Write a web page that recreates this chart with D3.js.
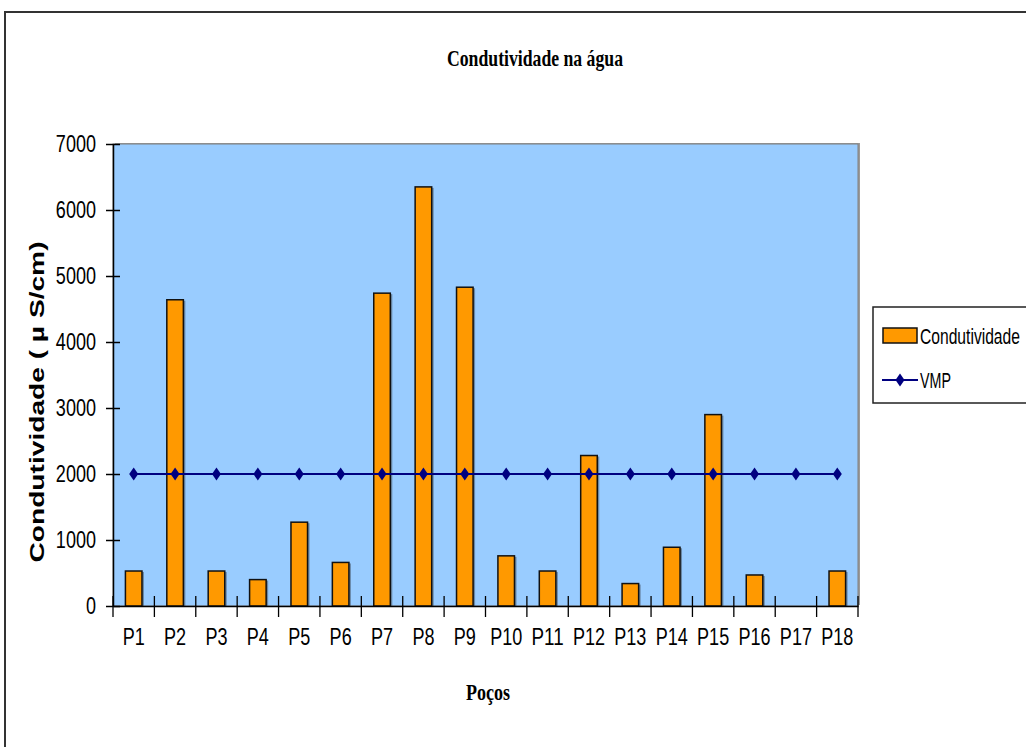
<!DOCTYPE html>
<html>
<head>
<meta charset="utf-8">
<script src="https://cdn.jsdelivr.net/npm/d3@7"></script>
<style>
  html, body { margin: 0; padding: 0; background: #fff; }
  svg { display: block; }
</style>
</head>
<body>
<svg id="chart" width="1026" height="747"></svg>
<script>
const categories = ["P1","P2","P3","P4","P5","P6","P7","P8","P9","P10","P11","P12","P13","P14","P15","P16","P17","P18"];
const condutividade = [530, 4640, 530, 400, 1270, 660, 4740, 6350, 4830, 760, 530, 2280, 340, 890, 2900, 470, 0, 530];
const vmp = [2000, 2000, 2000, 2000, 2000, 2000, 2000, 2000, 2000, 2000, 2000, 2000, 2000, 2000, 2000, 2000, 2000, 2000];
const yTicks = [0, 1000, 2000, 3000, 4000, 5000, 6000, 7000];
const titleText = "Condutividade na água";
const xTitle = "Poços";
const yTitle = "Condutividade ( µ S/cm)";
const legendNames = ["Condutividade", "VMP"];

const svg = d3.select("#chart");
const plot = { left: 113, right: 858, top: 144, bottom: 606 };
const sans = "'Liberation Sans', Arial, sans-serif";
const FS = 23.5;
// narrow-font width estimate (Arial Narrow metrics, at 22px)
const narrowW = s => {
  let w = 0;
  for (const ch of s) {
    if (/[0-9]/.test(ch)) w += 0.456;
    else if (ch === "P") w += 0.547;
    else w += 0.456;
  }
  return w * 22;
};

// outer chart frame
svg.append("rect").attr("x", 5).attr("y", 12).attr("width", 1100).attr("height", 800)
  .attr("fill", "#fff").attr("stroke", "#333").attr("stroke-width", 2);

const x = d3.scaleBand().domain(categories).range([plot.left, plot.right]).paddingInner(0).paddingOuter(0);
const y = d3.scaleLinear().domain([0, 7000]).range([plot.bottom, plot.top]);

// plot area with shadow
svg.append("rect").attr("x", plot.left + 2).attr("y", plot.top - 1)
  .attr("width", plot.right - plot.left).attr("height", plot.bottom - plot.top)
  .attr("fill", "#9a9a9a");
svg.append("rect").attr("x", plot.left).attr("y", plot.top)
  .attr("width", plot.right - plot.left).attr("height", plot.bottom - plot.top)
  .attr("fill", "#99CCFF").attr("stroke", "#808080").attr("stroke-width", 1);

// bars
const bw = x.bandwidth() * 0.4;
const bars = svg.append("g");
bars.selectAll("rect.shadow").data(condutividade).join("rect")
  .attr("class", "shadow")
  .attr("x", (d, i) => x(categories[i]) + x.bandwidth() / 2 - bw / 2 + 2)
  .attr("y", d => y(d) + 1)
  .attr("width", bw).attr("height", d => Math.max(0, y(0) - y(d)))
  .attr("fill", d => d > 0 ? "#4a5a6a" : "none").attr("opacity", 0.6);
bars.selectAll("rect.bar").data(condutividade).join("rect")
  .attr("class", "bar")
  .attr("x", (d, i) => x(categories[i]) + x.bandwidth() / 2 - bw / 2)
  .attr("y", d => y(d))
  .attr("width", bw).attr("height", d => Math.max(0, y(0) - y(d)))
  .attr("fill", d => d > 0 ? "#FF9900" : "none")
  .attr("stroke", d => d > 0 ? "#111" : "none").attr("stroke-width", 1.5);

// VMP line
const cx = (d, i) => x(categories[i]) + x.bandwidth() / 2;
const line = d3.line().x(cx).y(d => y(d));
svg.append("path").datum(vmp).attr("d", line)
  .attr("fill", "none").attr("stroke", "#000080").attr("stroke-width", 2);
const diamond = "M0,-6.5 L4.5,0 L0,6.5 L-4.5,0 Z";
svg.append("g").selectAll("path").data(vmp).join("path")
  .attr("d", diamond)
  .attr("transform", (d, i) => `translate(${cx(d, i)},${y(d)})`)
  .attr("fill", "#000080");

// Y axis
const yAxis = d3.axisLeft(y).tickValues(yTicks).tickSizeInner(7).tickSizeOuter(0).tickPadding(10).tickFormat(d3.format("d"));
const gy = svg.append("g").attr("transform", `translate(${plot.left},0)`).call(yAxis);
gy.select(".domain").attr("stroke", "#000").attr("stroke-width", 1.5);
gy.selectAll(".tick line").attr("x2", 7).attr("x1", -7).attr("stroke", "#000").attr("stroke-width", 1.5);
gy.selectAll(".tick text").attr("x", -17).attr("font-family", sans).attr("font-size", FS).attr("fill", "#000")
  .each(function() { const t = d3.select(this); t.attr("textLength", narrowW(t.text())).attr("lengthAdjust", "spacingAndGlyphs"); });

// X axis
const xAxis = d3.axisBottom(x).tickSize(0).tickPadding(22);
const gx = svg.append("g").attr("transform", `translate(0,${plot.bottom})`).call(xAxis);
gx.select(".domain").attr("stroke", "#000").attr("stroke-width", 1.5);
gx.selectAll(".tick text").attr("font-family", sans).attr("font-size", FS).attr("fill", "#000")
  .each(function() { const t = d3.select(this); t.attr("textLength", narrowW(t.text())).attr("lengthAdjust", "spacingAndGlyphs"); });
const bounds = categories.map(c => x(c)).concat([plot.right]);
svg.append("g").selectAll("line").data(bounds).join("line")
  .attr("x1", d => d).attr("x2", d => d)
  .attr("y1", plot.bottom - 10).attr("y2", plot.bottom + 11)
  .attr("stroke", "#000").attr("stroke-width", 1.3);

// titles
svg.append("text").attr("x", 535).attr("y", 66).attr("text-anchor", "middle")
  .attr("font-family", "'Liberation Serif', 'Times New Roman', serif").attr("font-weight", "bold")
  .attr("font-size", 24).attr("textLength", 176).attr("lengthAdjust", "spacingAndGlyphs")
  .text(titleText);
svg.append("text").attr("x", 488).attr("y", 700).attr("text-anchor", "middle")
  .attr("font-family", "'Liberation Serif', 'Times New Roman', serif").attr("font-weight", "bold")
  .attr("font-size", 24).attr("textLength", 44).attr("lengthAdjust", "spacingAndGlyphs")
  .text(xTitle);
svg.append("text").attr("transform", "translate(44,402) rotate(-90)").attr("text-anchor", "middle")
  .attr("font-family", sans).attr("font-weight", "bold")
  .attr("font-size", 20).attr("textLength", 321).attr("lengthAdjust", "spacingAndGlyphs")
  .text(yTitle);

// legend
const lg = svg.append("g");
lg.append("rect").attr("x", 873).attr("y", 307).attr("width", 170).attr("height", 96)
  .attr("fill", "#fff").attr("stroke", "#222").attr("stroke-width", 1.5);
lg.append("rect").attr("x", 883).attr("y", 328).attr("width", 34).attr("height", 15)
  .attr("fill", "#FF9900").attr("stroke", "#111").attr("stroke-width", 1.5);
lg.append("line").attr("x1", 882).attr("x2", 918).attr("y1", 380).attr("y2", 380)
  .attr("stroke", "#000080").attr("stroke-width", 2);
lg.append("path").attr("d", diamond).attr("transform", "translate(900,380)").attr("fill", "#000080");
const legendWidths = [100, 31];
lg.selectAll("text").data(legendNames).join("text")
  .attr("font-family", sans).attr("font-size", 22).attr("fill", "#000")
  .text(d => d)
  .each(function(d, i) {
    const natural = this.getComputedTextLength();
    const sx = legendWidths[i] / natural;
    d3.select(this).attr("transform", `translate(920,${i === 0 ? 344 : 388}) scale(${sx},1)`);
  });
</script>
</body>
</html>
